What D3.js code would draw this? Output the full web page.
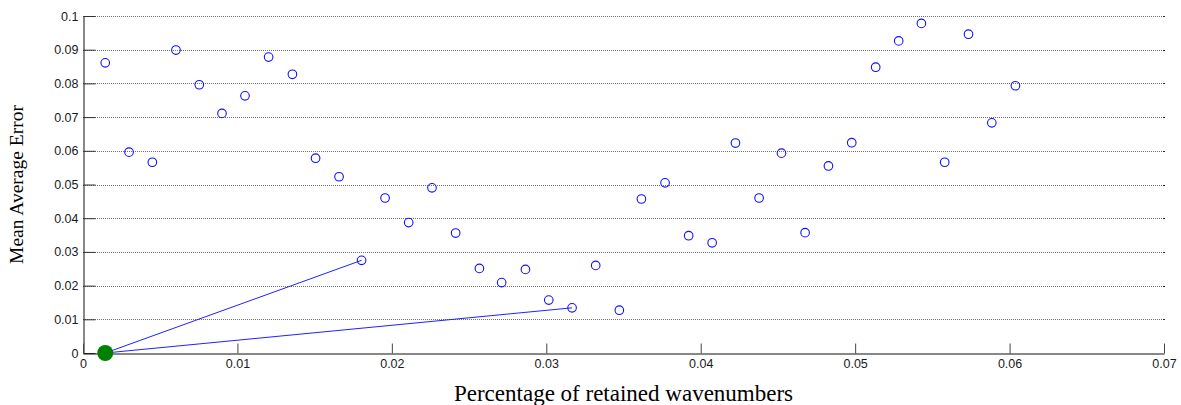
<!DOCTYPE html>
<html>
<head>
<meta charset="utf-8">
<script src="https://cdn.jsdelivr.net/npm/d3@7/dist/d3.min.js"></script>
<style>
  html, body { margin: 0; padding: 0; background: #fff; }
  svg { display: block; }
  .tick-label { font-family: "Liberation Sans", Arial, sans-serif; font-size: 12.5px; fill: #1a1a1a; }
  .axis-title { font-family: "Liberation Serif", "Times New Roman", serif; fill: #000; }
</style>
</head>
<body>
<svg id="chart" width="1181" height="405"></svg>
<script>
// Fraction of wavenumbers kept vs. resulting mean average error
const retained = [
  0.00144, 0.00298, 0.00449, 0.00602, 0.00753, 0.00900, 0.01049, 0.01202,
  0.01356, 0.01506, 0.01658, 0.01804, 0.01956, 0.02109, 0.02260, 0.02413,
  0.02567, 0.02711, 0.02865, 0.03016, 0.03167, 0.03320, 0.03473, 0.03616,
  0.03769, 0.03922, 0.04074, 0.04225, 0.04378, 0.04523, 0.04676, 0.04827,
  0.04978, 0.05133, 0.05282, 0.05429, 0.05580, 0.05734, 0.05885, 0.06038
];
const meanError = [
  0.0861, 0.0596, 0.0566, 0.0899, 0.0796, 0.0711, 0.0763, 0.0878,
  0.0827, 0.0578, 0.0523, 0.0275, 0.0460, 0.0387, 0.0490, 0.0356,
  0.0251, 0.0209, 0.0248, 0.0157, 0.0134, 0.0260, 0.0127, 0.0457,
  0.0505, 0.0348, 0.0327, 0.0623, 0.0460, 0.0593, 0.0357, 0.0555,
  0.0624, 0.0848, 0.0926, 0.0978, 0.0566, 0.0946, 0.0683, 0.0793
];

// Reference solution and the runs it is linked to (indices into the series)
const bestX = [0.00144];
const bestY = [0];
const linkedRuns = [11, 20];

const xTickValues = [0, 0.01, 0.02, 0.03, 0.04, 0.05, 0.06, 0.07];
const xTickLabels = ["0", "0.01", "0.02", "0.03", "0.04", "0.05", "0.06", "0.07"];
const yTickValues = [0, 0.01, 0.02, 0.03, 0.04, 0.05, 0.06, 0.07, 0.08, 0.09, 0.1];
const yTickLabels = ["0", "0.01", "0.02", "0.03", "0.04", "0.05", "0.06", "0.07", "0.08", "0.09", "0.1"];

const xTitle = "Percentage of retained wavenumbers";
const yTitle = "Mean Average Error";

const margin = { left: 83, right: 17, top: 16, bottom: 52 };
const W = 1181, H = 405;
const svg = d3.select("#chart");

const x = d3.scaleLinear().domain([0, 0.07]).range([margin.left, W - margin.right]);
const y = d3.scaleLinear().domain([0, 0.1]).range([H - margin.bottom, margin.top]);

// Horizontal grid lines
svg.append("g")
  .selectAll("line")
  .data(yTickValues.filter(v => v > 0))
  .join("line")
  .attr("x1", x(0)).attr("x2", x(0.07))
  .attr("y1", d => Math.round(y(d)) + 0.5).attr("y2", d => Math.round(y(d)) + 0.5)
  .attr("stroke", "#6e6e6e")
  .attr("stroke-dasharray", "1,1");

// small end marks at the right of each grid line
svg.append("g")
  .selectAll("line")
  .data(yTickValues.filter(v => v > 0))
  .join("line")
  .attr("x1", x(0.07) - 1).attr("x2", x(0.07) + 1)
  .attr("y1", d => Math.round(y(d)) + 0.5).attr("y2", d => Math.round(y(d)) + 0.5)
  .attr("stroke", "#222");

// Y axis: ticks pointing inward
const yAxis = d3.axisLeft(y)
  .tickValues(yTickValues)
  .tickFormat((d, i) => yTickLabels[i])
  .tickSizeInner(-12)
  .tickSizeOuter(0)
  .tickPadding(5);
const gy = svg.append("g")
  .attr("transform", `translate(${Math.round(x(0)) + 0.5},0)`)
  .call(yAxis);
gy.select(".domain").attr("stroke", "#111");
gy.selectAll(".tick line").attr("stroke", "#333");
gy.selectAll(".tick text").attr("class", "tick-label").attr("font-size", null).attr("font-family", null);

// X axis: ticks pointing inward
const xAxis = d3.axisBottom(x)
  .tickValues(xTickValues)
  .tickFormat((d, i) => xTickLabels[i])
  .tickSizeInner(-10)
  .tickSizeOuter(0)
  .tickPadding(8);
const gx = svg.append("g")
  .attr("transform", `translate(0,${Math.round(y(0)) + 0.5})`)
  .call(xAxis);
gx.select(".domain").attr("stroke", "#111");
gx.selectAll(".tick line").attr("stroke", "#444");
gx.selectAll(".tick text").attr("class", "tick-label").attr("font-size", null).attr("font-family", null).attr("dy", "0.5em");

// Links from the reference solution to selected runs
svg.append("g")
  .selectAll("line")
  .data(linkedRuns)
  .join("line")
  .attr("x1", x(bestX[0])).attr("y1", y(bestY[0]))
  .attr("x2", i => x(retained[i])).attr("y2", i => y(meanError[i]))
  .attr("stroke", "#2020ff")
  .attr("stroke-width", 1);

// Run markers
svg.append("g")
  .selectAll("circle")
  .data(retained.map((v, i) => [v, meanError[i]]))
  .join("circle")
  .attr("cx", d => x(d[0]))
  .attr("cy", d => y(d[1]))
  .attr("r", 4.3)
  .attr("fill", "none")
  .attr("stroke", "#1010ff")
  .attr("stroke-width", 1.1);

// Reference solution marker
svg.append("g")
  .selectAll("circle")
  .data(bestX.map((v, i) => [v, bestY[i]]))
  .join("circle")
  .attr("cx", d => x(d[0]))
  .attr("cy", d => y(d[1]))
  .attr("r", 8)
  .attr("fill", "#008000");

// Axis titles
svg.append("text")
  .attr("class", "axis-title")
  .attr("font-size", 23)
  .attr("x", (x(0) + x(0.07)) / 2)
  .attr("y", 401)
  .attr("text-anchor", "middle")
  .text(xTitle);

svg.append("text")
  .attr("class", "axis-title")
  .attr("font-size", 19.5)
  .attr("transform", `translate(23,${(y(0) + y(0.1)) / 2}) rotate(-90)`)
  .attr("text-anchor", "middle")
  .text(yTitle);
</script>
</body>
</html>
